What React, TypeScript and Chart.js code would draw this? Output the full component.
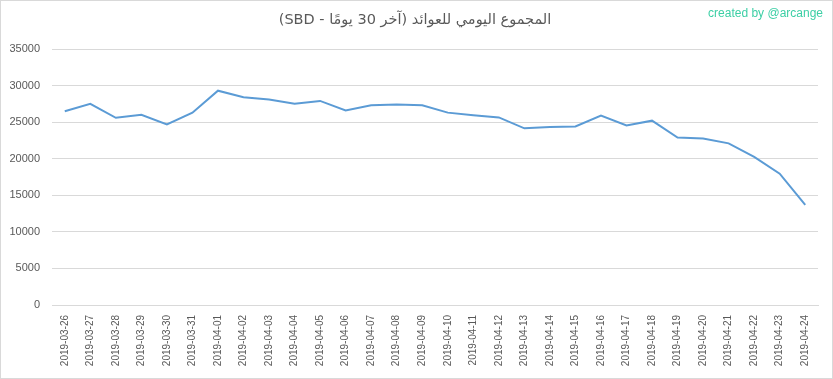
import React, { useEffect, useRef } from "react";
import { Chart, registerables } from "chart.js";

Chart.register(...registerables);

const titleText = "المجموع اليومي للعوائد (آخر 30 يومًا - SBD)";
const creditText = "created by @arcange";

const dates = [
  "2019-03-26", "2019-03-27", "2019-03-28", "2019-03-29", "2019-03-30", "2019-03-31",
  "2019-04-01", "2019-04-02", "2019-04-03", "2019-04-04", "2019-04-05", "2019-04-06",
  "2019-04-07", "2019-04-08", "2019-04-09", "2019-04-10", "2019-04-11", "2019-04-12",
  "2019-04-13", "2019-04-14", "2019-04-15", "2019-04-16", "2019-04-17", "2019-04-18",
  "2019-04-19", "2019-04-20", "2019-04-21", "2019-04-22", "2019-04-23", "2019-04-24",
];

const rewards = [
  26500, 27500, 25600, 26000, 24700, 26300,
  29300, 28400, 28100, 27500, 27900, 26600,
  27300, 27400, 27300, 26300, 25950, 25650,
  24150, 24350, 24400, 25900, 24550, 25200,
  22900, 22750, 22100, 20250, 17950, 13700,
];

const yMin = 0;
const yMax = 35000;
const yStep = 5000;

const decorPlugin = {
  id: "decor",
  afterDraw(chart: any) {
    const ctx = chart.ctx;
    ctx.save();
    ctx.strokeStyle = "#d9d9d9";
    ctx.lineWidth = 1;
    ctx.strokeRect(0.5, 0.5, chart.width - 1, chart.height - 1);
    ctx.fillStyle = "#595959";
    ctx.font = "14.5px 'DejaVu Sans', sans-serif";
    ctx.textBaseline = "middle";
    ctx.textAlign = "center";
    (ctx as any).direction = "rtl";
    ctx.fillText(titleText, 415, 20);
    (ctx as any).direction = "ltr";
    ctx.fillStyle = "#3ccfa5";
    ctx.font = "12px 'Liberation Sans', sans-serif";
    ctx.textAlign = "right";
    ctx.fillText(creditText, 823, 14);
    ctx.restore();
  },
};

export default function App() {
  const ref = useRef<HTMLCanvasElement | null>(null);
  useEffect(() => {
    if (!ref.current) return;
    const chart = new Chart(ref.current, {
      type: "line",
      data: {
        labels: dates,
        datasets: [
          {
            data: rewards,
            borderColor: "#5b9bd5",
            borderWidth: 2,
            pointRadius: 0,
            tension: 0,
            fill: false,
          },
        ],
      },
      options: {
        animation: false,
        responsive: false,
        maintainAspectRatio: false,
        layout: { padding: { top: 49, right: 15, bottom: 0, left: 0 } },
        plugins: {
          legend: { display: false },
          title: { display: false },
          tooltip: { enabled: false },
        },
        scales: {
          x: {
            offset: true,
            grid: { display: false, drawTicks: false },
            border: { display: true, color: "#d9d9d9", width: 1 },
            ticks: {
              minRotation: 90,
              maxRotation: 90,
              autoSkip: false,
              padding: 10,
              color: "#595959",
              font: { family: "'Liberation Sans', sans-serif", size: 10 },
            },
            afterFit(scale: any) {
              scale.height = 74;
            },
          },
          y: {
            min: yMin,
            max: yMax,
            grid: { color: "#d9d9d9", drawTicks: false },
            border: { display: false },
            ticks: {
              stepSize: yStep,
              padding: 12,
              color: "#595959",
              font: { family: "'Liberation Sans', sans-serif", size: 11 },
              callback: (v: any) => String(v),
            },
            afterFit(scale: any) {
              scale.width = 52;
            },
          },
        },
      },
      plugins: [decorPlugin],
    });
    return () => chart.destroy();
  }, []);
  return (
    <div style={{ position: "fixed", left: 0, top: 0, width: 833, height: 379, background: "#fff" }}>
      <canvas ref={ref} width={833} height={379} style={{ display: "block" }} />
    </div>
  );
}
